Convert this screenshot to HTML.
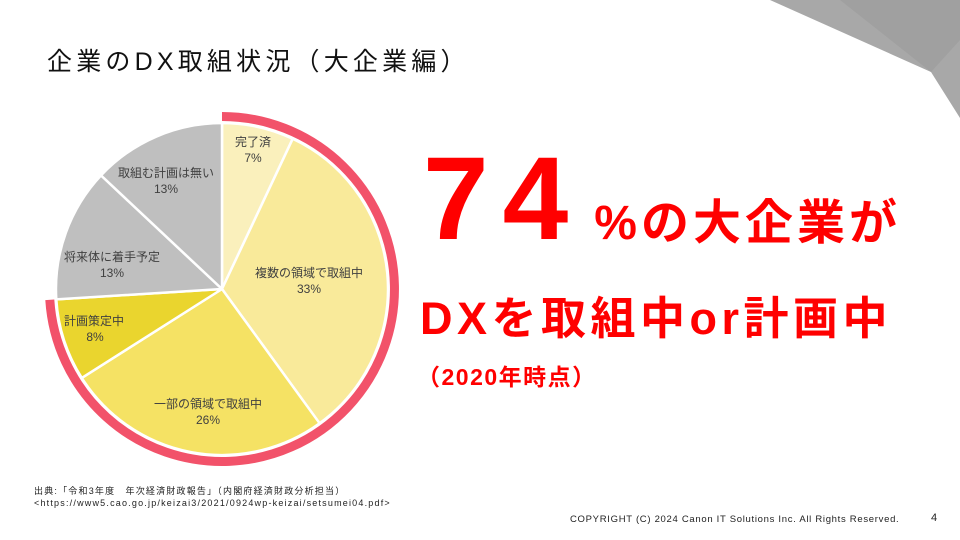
<!DOCTYPE html>
<html><head><meta charset="utf-8"><style>
body{margin:0;width:960px;height:540px;overflow:hidden;background:#fff;font-family:"Liberation Sans","Noto Sans CJK JP",sans-serif;position:relative}
.a{position:absolute;white-space:nowrap}
</style></head><body>
<svg class="a" style="left:0;top:0" width="960" height="540">
<polygon points="770,0 960,0 960,118 931,72" fill="#a8a8a8"/>
<polygon points="840,0 960,0 960,40 931,72" fill="#a0a0a0"/>
<g stroke="#fff" stroke-width="2.5" stroke-linejoin="round">
<path d="M222,289 L222,123 A166,166 0 0 1 292.7,138.8 Z" fill="#faf0bc"/>
<path d="M222,289 L292.7,138.8 A166,166 0 0 1 319.6,423.3 Z" fill="#f9ea9a"/>
<path d="M222,289 L319.6,423.3 A166,166 0 0 1 81.8,377.9 Z" fill="#f5e264"/>
<path d="M222,289 L81.8,377.9 A166,166 0 0 1 56.3,299.4 Z" fill="#ead52e"/>
<path d="M222,289 L56.3,299.4 A166,166 0 0 1 101,175.4 Z" fill="#bfbfbf"/>
<path d="M222,289 L101,175.4 A166,166 0 0 1 222,123 Z" fill="#bfbfbf"/>
</g>
<path d="M222,116.5 A172.5,172.5 0 1 1 49.8,299.8" fill="none" stroke="#f2526a" stroke-width="9"/>
<g font-size="12" fill="#404040" text-anchor="middle" font-family="Liberation Sans,Noto Sans CJK JP,sans-serif">
<text x="253" y="146">完了済</text><text x="253" y="162">7%</text>
<text x="309" y="277">複数の領域で取組中</text><text x="309" y="293">33%</text>
<text x="208" y="408">一部の領域で取組中</text><text x="208" y="424">26%</text>
<text x="94" y="325">計画策定中</text><text x="95" y="341">8%</text>
<text x="112" y="261">将来体に着手予定</text><text x="112" y="277">13%</text>
<text x="166" y="177">取組む計画は無い</text><text x="166" y="193">13%</text>
</g>
</svg>
<div class="a" style="left:47px;top:42px;font-size:25px;color:#111;letter-spacing:4.2px">企業のDX取組状況（大企業編）</div>
<div class="a" style="left:423px;top:140px;color:#ff0000;font-weight:bold;line-height:1"><span style="font-size:118px;letter-spacing:14px">74</span><span style="font-size:48px;letter-spacing:4px;margin-left:12px">%の大企業が</span></div>
<div class="a" style="left:420px;top:296px;color:#ff0000;font-weight:bold;font-size:45px;line-height:1;letter-spacing:4.5px">DXを取組中or計画中</div>
<div class="a" style="left:417px;top:366px;color:#ff0000;font-weight:bold;font-size:23px;line-height:1;letter-spacing:1.5px">（2020年時点）</div>
<div class="a" style="left:34px;top:485px;font-size:9px;color:#222;line-height:12px;letter-spacing:1.2px">出典:「令和3年度　年次経済財政報告」（内閣府経済財政分析担当）<br>&lt;https://www5.cao.go.jp/keizai3/2021/0924wp-keizai/setsumei04.pdf&gt;</div>
<div class="a" style="left:570px;top:514px;font-size:9.5px;color:#222;letter-spacing:0.7px">COPYRIGHT (C) 2024 Canon IT Solutions Inc. All Rights Reserved.</div>
<div class="a" style="left:931px;top:512px;font-size:11px;color:#222">4</div>
</body></html>
